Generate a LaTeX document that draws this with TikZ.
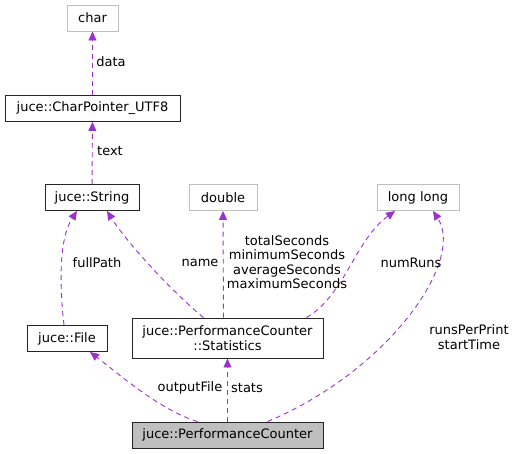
\documentclass[tikz,border=0pt]{standalone}
\usepackage{fontspec}
\setmainfont{DejaVu Sans}
\usetikzlibrary{arrows.meta}
\definecolor{edgepurple}{HTML}{9A32CD}
\definecolor{boxgray}{HTML}{BFBFBF}

\begin{document}
\begin{tikzpicture}[x=1pt,y=-1pt,
  cls/.style={draw=black!85,line width=0.9pt,minimum height=26pt,inner sep=0pt,
    align=center,font=\fontsize{13}{14.5}\selectfont},
  ext/.style={cls,draw=boxgray},
  use/.style={draw=edgepurple,line width=0.9pt,dash pattern=on 5pt off 4pt,
    -{Triangle[length=9pt,width=8pt]}},
  lbl/.style={font=\fontsize{13}{14.5}\selectfont,align=center,inner sep=0pt}]
  \useasboundingbox (0,0) rectangle (514,453);
  % classes
  \node[ext,minimum width=51pt] (char) at (92.5,18) {char};
  \node[cls,minimum width=175pt] (utf8) at (92.5,108.5) {juce::CharPointer\_UTF8};
  \node[cls,minimum width=94pt] (string) at (92,197.5) {juce::String};
  \node[ext,minimum width=68pt] (double) at (223,197.5) {double};
  \node[ext,minimum width=82pt] (longlong) at (418,197.5) {long long};
  \node[cls,minimum width=80pt] (file) at (67,338.5) {juce::File};
  \node[cls,minimum width=191pt,minimum height=40pt] (stats) at (227.5,338)
    {juce::PerformanceCounter\\::Statistics};
  \node[cls,fill=boxgray,minimum width=191pt] (counter) at (227.5,435)
    {juce::PerformanceCounter};
  % usage edges
  \draw[use] (utf8) -- (char);
  \draw[use] (string) -- (utf8);
  \draw[use] ([xshift=-3pt]file.north) .. controls (60,290) and (58,240)
    .. ([xshift=-15pt]string.south);
  \draw[use] ([xshift=-24pt]stats.north) .. controls (170,290) and (125,240)
    .. ([xshift=15pt]string.south);
  \draw[use] ([xshift=-4pt]stats.north) -- (double.south);
  \draw[use] ([xshift=79pt]stats.north) .. controls (345,295) and (355,240)
    .. ([xshift=-23pt]longlong.south);
  \draw[use] ([xshift=40pt]counter.north) .. controls (390,370) and (465,260)
    .. ([xshift=15pt]longlong.south);
  \draw[use] ([xshift=-30pt]counter.north) .. controls (160,410) and (120,375)
    .. ([xshift=23pt]file.south);
  \draw[use] (counter) -- (stats);
  % edge labels
  \node[lbl] (ldata) at (111,62) {data};
  \node[lbl] (ltext) at (110,151) {text};
  \node[lbl] (lpath) at (97,263) {fullPath};
  \node[lbl] (lname) at (200,263) {name};
  \node[lbl] (lsecs) at (287,262)
    {totalSeconds\\minimumSeconds\\averageSeconds\\maximumSeconds};
  \node[lbl] (lruns) at (411,263) {numRuns};
  \node[lbl] (lprint) at (469,337) {runsPerPrint\\startTime};
  \node[lbl] (lout) at (190,388) {outputFile};
  \node[lbl] (lstats) at (247,388) {stats};
\end{tikzpicture}
\end{document}
